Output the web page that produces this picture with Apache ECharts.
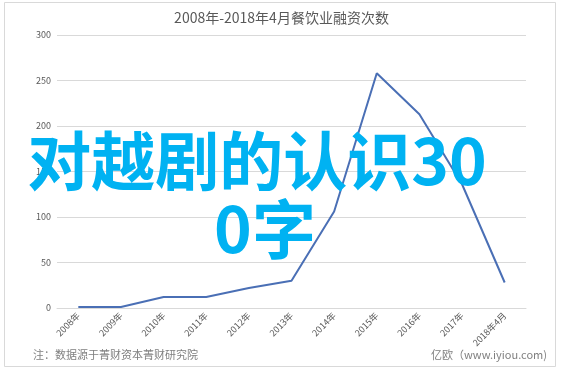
<!DOCTYPE html>
<html><head><meta charset="utf-8">
<script src="https://cdn.jsdelivr.net/npm/echarts@6/dist/echarts.min.js"></script>
<style>html,body{margin:0;padding:0;background:#fff}#c{width:563px;height:370px}</style>
</head><body><div id="c"></div>
<script>
const categories = ['2008年','2009年','2010年','2011年','2012年','2013年','2014年','2015年','2016年','2017年','2018年4月'];
const values = [1, 1, 12, 12, 22, 30, 106, 258, 213, 136, 28];
const yTicks = [0, 50, 100, 150, 200, 250, 300];
const titleText = '2008年-2018年4月餐饮业融资次数';
const overlayLines = ['对越剧的认识30', '0字'];
const noteText = '注：数据源于菁财资本菁财研究院';
const sourceText = '亿欧（www.iyiou.com)';

const chart = echarts.init(document.getElementById('c'), null, {renderer:'canvas'});
const font = '"Noto Sans CJK SC","Noto Sans",sans-serif';
chart.setOption({
  animation:false,
  backgroundColor:'#fff',
  title:{text:titleText, left:'center', top:6, textStyle:{fontFamily:font, fontSize:14, fontWeight:'normal', color:'#595959'}},
  grid:{left:57, right:37, top:35, bottom:62, containLabel:false},
  xAxis:{type:'category', data:categories, boundaryGap:true,
    axisLine:{show:true, lineStyle:{color:'#d9d9d9'}}, axisTick:{show:false},
    axisLabel:{rotate:45, fontSize:9, color:'#595959', fontFamily:font, margin:6, interval:0}},
  yAxis:{type:'value', min:yTicks[0], max:yTicks[yTicks.length-1], interval:50,
    axisLine:{show:false}, axisTick:{show:false},
    axisLabel:{fontSize:9, color:'#595959', fontFamily:font, margin:6},
    splitLine:{lineStyle:{color:'#d9d9d9'}}},
  series:[{type:'line', data:values, symbol:'none', lineStyle:{color:'#4a6fb5', width:2}, z:2}],
  graphic:[
    {type:'rect', shape:{x:4.5, y:2.5, width:551, height:364}, style:{fill:'none', stroke:'#d9d9d9', lineWidth:1}, silent:true},
    {type:'text', left:33, top:349, style:{text:noteText, font:'11px '+font, fill:'#7f7f7f'}},
    {type:'text', right:16, top:349, style:{text:sourceText, font:'11px '+font, fill:'#7f7f7f'}},
    {type:'text', x:257, y:161, z:100, style:{text:overlayLines[0], font:'bold 64px '+font, fill:'#00b2f2', textAlign:'center', textVerticalAlign:'middle'}},
    {type:'text', x:265, y:229, z:100, style:{text:overlayLines[1], font:'bold 64px '+font, fill:'#00b2f2', textAlign:'center', textVerticalAlign:'middle'}}
  ]
});
</script></body></html>
